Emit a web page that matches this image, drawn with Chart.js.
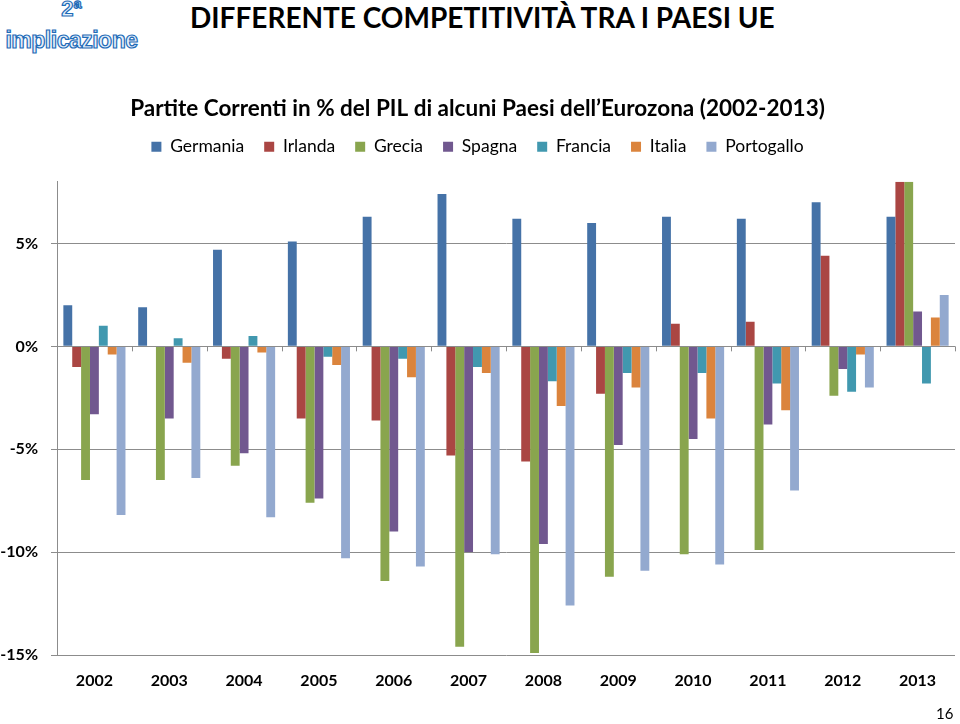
<!DOCTYPE html>
<html><head><meta charset="utf-8">
<script src="https://cdn.jsdelivr.net/npm/chart.js@4/dist/chart.umd.min.js"></script>
<style>
html,body{margin:0;padding:0;background:#fff;width:960px;height:724px;overflow:hidden;}
#wrap{position:absolute;left:0;top:0;width:960px;height:724px;}
#logo1{position:absolute;left:0;width:143px;top:-4px;text-align:center;font:bold 22px "Liberation Sans",Arial,sans-serif;color:#e6f0fa;-webkit-text-stroke:1.2px #1f6cb8;}
#logo2{position:absolute;left:0;width:143px;top:27px;text-align:center;font:bold 23px "Liberation Sans",Arial,sans-serif;color:#e6f0fa;-webkit-text-stroke:1.2px #1f6cb8;letter-spacing:-0.5px;}
#head{position:absolute;left:190px;top:0px;font:bold 28px Lato,sans-serif;color:#000;white-space:nowrap;}
#pg{position:absolute;left:936px;top:704px;font:15px Lato,sans-serif;color:#000;}
canvas{position:absolute;left:0;top:0;}
</style></head>
<body>
<div id="wrap">
<div id="logo1">2ª</div>
<div id="logo2">implicazione</div>
<div id="head">DIFFERENTE COMPETITIVITÀ TRA I PAESI UE</div>
<canvas id="c" width="960" height="724"></canvas>
<div id="pg">16</div>
</div>
<script>
const years = ['2002','2003','2004','2005','2006','2007','2008','2009','2010','2011','2012','2013'];
const germania   = [2.0, 1.9, 4.7, 5.1, 6.3, 7.4, 6.2, 6.0, 6.3, 6.2, 7.0, 6.3];
const irlanda    = [-1.0, 0.0, -0.6, -3.5, -3.6, -5.3, -5.6, -2.3, 1.1, 1.2, 4.4, 8.0];
const grecia     = [-6.5, -6.5, -5.8, -7.6, -11.4, -14.6, -14.9, -11.2, -10.1, -9.9, -2.4, 8.0];
const spagna     = [-3.3, -3.5, -5.2, -7.4, -9.0, -10.0, -9.6, -4.8, -4.5, -3.8, -1.1, 1.7];
const francia    = [1.0, 0.4, 0.5, -0.5, -0.6, -1.0, -1.7, -1.3, -1.3, -1.8, -2.2, -1.8];
const italia     = [-0.4, -0.8, -0.3, -0.9, -1.5, -1.3, -2.9, -2.0, -3.5, -3.1, -0.4, 1.4];
const portogallo = [-8.2, -6.4, -8.3, -10.3, -10.7, -10.1, -12.6, -10.9, -10.6, -7.0, -2.0, 2.5];
const seriesNames = ['Germania','Irlanda','Grecia','Spagna','Francia','Italia','Portogallo'];
const seriesData = [germania, irlanda, grecia, spagna, francia, italia, portogallo];
const colors = ['#4572A7','#AA4643','#89A54E','#71588F','#4198AF','#DB843D','#93A9CF'];
const yTicks = [-15, -10, -5, 0, 5];
const yMin = -15, yMax = 8;
const chartTitle = 'Partite Correnti in % del PIL di alcuni Paesi dell\u2019Eurozona (2002-2013)';

const gridGray = '#8c8c8c';

const legendMargin = {
  id: 'legendMargin',
  beforeInit(chart) {
    const orig = chart.legend.fit;
    chart.legend.fit = function () { orig.bind(chart.legend)(); this.height += 16.25; };
  }
};
const zeroTicks = {
  id: 'zeroTicks',
  afterDatasetsDraw(chart) {
    const x = chart.scales.x, y = chart.scales.y;
    const ctx = chart.ctx;
    const y0 = y.getPixelForValue(0);
    const n = years.length;
    ctx.save();
    ctx.strokeStyle = gridGray;
    ctx.lineWidth = 1;
    ctx.beginPath();
    ctx.moveTo(x.left, Math.round(y0) + 0.5);
    ctx.lineTo(x.right, Math.round(y0) + 0.5);
    for (let i = 1; i <= n; i++) {
      const px = Math.round(x.left + (x.right - x.left) * i / n) + 0.5;
      ctx.moveTo(px, y0);
      ctx.lineTo(px, y0 + 5);
    }
    ctx.stroke();
    ctx.restore();
  }
};

Chart.defaults.font.family = 'Lato, sans-serif';
Chart.defaults.color = '#000';

new Chart(document.getElementById('c'), {
  type: 'bar',
  data: {
    labels: years,
    datasets: seriesNames.map((n, i) => ({
      label: n,
      data: seriesData[i],
      backgroundColor: colors[i],
      borderWidth: 0,
      barPercentage: 1.0,
      categoryPercentage: 0.83
    }))
  },
  options: {
    responsive: false,
    animation: false,
    devicePixelRatio: 1,
    layout: { padding: { top: 80, right: 5, left: 0, bottom: 0 } },
    plugins: {
      title: {
        display: true,
        text: chartTitle,
        font: { size: 22.5, weight: 'bold', lineHeight: 0.8 },
        color: '#000',
        padding: { top: 20, bottom: 0 }
      },
      legend: {
        display: true,
        position: 'top',
        labels: {
          boxWidth: 10,
          boxHeight: 10,
          padding: 20,
          font: { size: 17.5, lineHeight: 1.0 },
          color: '#000'
        }
      },
      tooltip: { enabled: false }
    },
    scales: {
      x: {
        offset: true,
        grid: { display: false, drawTicks: false },
        border: { display: false },
        ticks: { font: { size: 16, weight: 'bold' }, color: '#000', padding: 16, maxRotation: 0 },
        afterFit(s) { s.height = 69; }
      },
      y: {
        min: yMin,
        max: yMax,
        afterBuildTicks(s) { s.ticks = yTicks.map(v => ({ value: v })); },
        grid: { color: gridGray, lineWidth: 1, tickLength: 6, drawTicks: true, tickColor: gridGray },
        border: { display: true, color: gridGray, width: 1 },
        ticks: {
          font: { size: 16, weight: 'bold' }, color: '#000', padding: 13,
          callback: v => v + '%'
        },
        afterFit(s) { s.width = 57; }
      }
    }
  },
  plugins: [legendMargin, zeroTicks]
});
</script>
</body></html>
